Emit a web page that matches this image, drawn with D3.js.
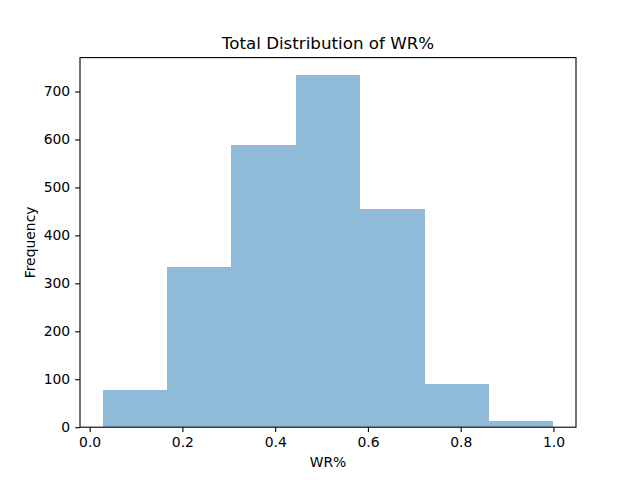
<!DOCTYPE html>
<html>
<head>
<meta charset="utf-8">
<script src="https://cdn.jsdelivr.net/npm/d3@7"></script>
<style>
	body { margin: 0; background: #fff; }
	svg { display: block; font-family: "DejaVu Sans", sans-serif; }
</style>
</head>
<body>
<svg id="chart" width="640" height="480"></svg>
<script>
var binEdges = [0.0278, 0.1667, 0.3056, 0.4444, 0.5833, 0.7222, 0.8611, 1.0];
var binCounts = [78, 335, 589, 734, 454, 90, 13];
var xTicks = [0.0, 0.2, 0.4, 0.6, 0.8, 1.0];
var yTicks = [0, 100, 200, 300, 400, 500, 600, 700];

// plot box (window.top is reserved, so use other names)
var plotLeft = 80, plotRight = 576, plotTop = 57.6, plotBottom = 427.2;
var svg = d3.select("#chart");

// matplotlib style 5% margins on x, 5% headroom on y
var xMin = d3.min(binEdges), xMax = d3.max(binEdges);
var pad = (xMax - xMin) * 0.05;
var x = d3.scaleLinear().domain([xMin - pad, xMax + pad]).range([plotLeft, plotRight]);
var y = d3.scaleLinear().domain([0, d3.max(binCounts) * 1.05]).range([plotBottom, plotTop]);

var bins = binCounts.map(function (c, i) {
	return { x0: binEdges[i], x1: binEdges[i + 1], count: c };
});

svg.append("g")
	.selectAll("rect")
	.data(bins)
	.enter().append("rect")
	.attr("x", function (d) { return x(d.x0); })
	.attr("width", function (d) { return x(d.x1) - x(d.x0); })
	.attr("y", function (d) { return y(d.count); })
	.attr("height", function (d) { return y(0) - y(d.count); })
	.attr("fill", "#1f77b4")
	.attr("fill-opacity", 0.5)
	.attr("shape-rendering", "crispEdges");

var xAxis = svg.append("g")
	.attr("transform", "translate(0," + plotBottom + ")")
	.call(d3.axisBottom(x).tickValues(xTicks).tickFormat(d3.format(".1f")).tickSize(4.9).tickPadding(4.9));
var yAxis = svg.append("g")
	.attr("transform", "translate(" + plotLeft + ",0)")
	.call(d3.axisLeft(y).tickValues(yTicks).tickFormat(d3.format("d")).tickSize(4.9).tickPadding(4.9));

[xAxis, yAxis].forEach(function (a) {
	a.select(".domain").remove();
	a.selectAll("line").attr("stroke", "#000").attr("stroke-width", 1.1);
	a.selectAll("text").attr("font-size", "13.9px").attr("fill", "#000").attr("font-family", "DejaVu Sans, sans-serif");
});

// spines
svg.append("rect")
	.attr("x", plotLeft).attr("y", plotTop)
	.attr("width", plotRight - plotLeft).attr("height", plotBottom - plotTop)
	.attr("fill", "none").attr("stroke", "#000").attr("stroke-width", 1.1);

svg.append("text")
	.attr("x", (plotLeft + plotRight) / 2).attr("y", 49.3)
	.attr("text-anchor", "middle")
	.attr("font-size", "16.7px")
	.text("Total Distribution of WR%");

svg.append("text")
	.attr("x", (plotLeft + plotRight) / 2).attr("y", 467)
	.attr("text-anchor", "middle")
	.attr("font-size", "13.9px")
	.text("WR%");

svg.append("text")
	.attr("transform", "translate(35," + (plotTop + plotBottom) / 2 + ") rotate(-90)")
	.attr("text-anchor", "middle")
	.attr("font-size", "13.9px")
	.text("Frequency");
</script>
</body>
</html>
